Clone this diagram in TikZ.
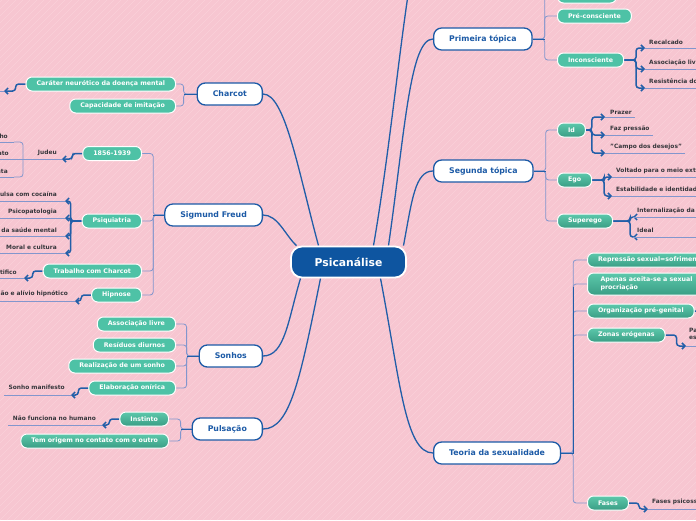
\documentclass[tikz,border=0pt]{standalone}
\usepackage{fontspec}
\setmainfont{DejaVu Sans}
\usetikzlibrary{arrows.meta}

\definecolor{bgpink}{RGB}{247,198,209}
\definecolor{stripepink}{RGB}{250,208,217}
\definecolor{rootblue}{RGB}{14,85,160}
\definecolor{topicblue}{RGB}{28,90,166}
\definecolor{linkblue}{RGB}{33,94,168}
\definecolor{tealflat}{RGB}{78,194,166}
\definecolor{tealtop}{RGB}{92,200,171}
\definecolor{tealbot}{RGB}{58,158,133}
\definecolor{lavender}{RGB}{130,150,205}
\definecolor{subgray}{RGB}{55,55,60}

\pgfdeclarelayer{bg}
\pgfdeclarelayer{links}
\pgfsetlayers{bg,links,main}

\tikzset{
  root/.style={draw=white, line width=1.8pt, fill=rootblue, rounded corners=11pt,
    text=white, font=\fontsize{10.8}{12}\selectfont\bfseries,
    minimum width=115pt, minimum height=31pt, inner sep=0pt},
  topic/.style={draw=topicblue, line width=1.3pt, fill=white, rounded corners=8pt,
    text=topicblue, font=\fontsize{7.8}{9}\selectfont\bfseries,
    minimum height=22pt, inner xsep=15.5pt, inner ysep=0pt},
  leaf/.style={draw=white, line width=1pt, fill=tealflat, rounded corners=6pt,
    text=white, font=\fontsize{6.3}{7.6}\selectfont\bfseries,
    minimum height=14pt, inner xsep=10.5pt, inner ysep=1pt},
  leafg/.style={leaf, top color=tealtop, bottom color=tealbot},
  subtext/.style={text=subgray, font=\fontsize{5.9}{7.4}\selectfont\bfseries, inner xsep=3pt, inner ysep=1pt},
  link/.style={draw=linkblue, line width=1.3pt},
  stub/.style={draw=linkblue, line width=1pt},
  bracket/.style={draw=lavender, line width=0.8pt, rounded corners=3pt},
  uline/.style={draw=lavender, line width=0.8pt},
  fork/.style={draw=linkblue, line width=1.5pt, rounded corners=3pt,
    -{Straight Barb[length=3pt,width=6pt]}},
}

\begin{document}
\begin{tikzpicture}[x=1pt,y=-1pt]
  \useasboundingbox (0,0) rectangle (696,520);

  % Background
  \begin{pgfonlayer}{bg}
    \fill[bgpink] (0,0) rectangle (696,520);
    \foreach \a in {-525,-518,...,700}
      \draw[stripepink, line width=0.5pt] (\a,520) -- ++(520,-520);
  \end{pgfonlayer}

  % Central topic
  \node[root] (psi) at (348.5,262) {Psicanálise};

  % Main topics
  \node[topic, anchor=east] (charcot) at (263,94) {Charcot};
  \node[topic, anchor=east] (freud) at (263,215) {Sigmund Freud};
  \node[topic, anchor=east] (sonhos) at (263,356) {Sonhos};
  \node[topic, anchor=east] (puls) at (263,429) {Pulsação};
  \node[topic, anchor=west] (prim) at (433,39) {Primeira tópica};
  \node[topic, anchor=west] (seg) at (433,171) {Segunda tópica};
  \node[topic, anchor=west] (teoria) at (433,453) {Teoria da sexualidade};
  \coordinate (abovetop) at (412,-30);

  % Charcot
  \node[leaf, anchor=east] (carat) at (176,84) {Caráter neurótico da doença mental};
  \node[leaf, anchor=east] (capac) at (176,106) {Capacidade de imitação};
  \coordinate (carattip) at (4,91);

  % Sigmund Freud
  \node[leaf, anchor=east] (y1856) at (142,153.5) {1856-1939};
  \node[leaf, anchor=east] (psiq) at (142,221) {Psiquiatria};
  \node[leaf, anchor=east] (trab) at (142,271) {Trabalho com Charcot};
  \node[leaf, anchor=east] (hipn) at (142,295) {Hipnose};
  \node[subtext, anchor=east] (judeu) at (60,153) {Judeu};
  \node[subtext, anchor=east] (ho) at (11,136) {ho};
  \node[subtext, anchor=east] (ato) at (12,153) {ato};
  \node[subtext, anchor=east] (sta) at (11,171) {sta};
  \node[subtext, anchor=east] (coca) at (60,194) {ulsa com cocaína};
  \node[subtext, anchor=east] (psico) at (60,212) {Psicopatologia};
  \node[subtext, anchor=east] (saude) at (60,230) {da saúde mental};
  \node[subtext, anchor=east] (moral) at (60,247) {Moral e cultura};
  \node[subtext, anchor=east] (tific) at (20,272) {tifico};
  \node[subtext, anchor=east] (alivio) at (71,294) {ão e alívio hipnótico};
  \coordinate (judeutip) at (62,159);
  \coordinate (hoend) at (14,142);
  \coordinate (staend) at (14,177);
  \coordinate (cocatip) at (65,201);
  \coordinate (psicotip) at (65,218);
  \coordinate (saudetip) at (65,236);
  \coordinate (moraltip) at (65,253);
  \coordinate (tifictip) at (24,278);
  \coordinate (aliviotip) at (75,301);

  % Sonhos
  \node[leaf, anchor=east] (assoc) at (176,324) {Associação livre};
  \node[leaf, anchor=east] (resid) at (176,345) {Resíduos diurnos};
  \node[leaf, anchor=east] (realiz) at (176,366) {Realização de um sonho};
  \node[leaf, anchor=east] (elab) at (176,388) {Elaboração onírica};
  \node[subtext, anchor=east] (manif) at (68,387) {Sonho manifesto};
  \coordinate (maniftip) at (71,395);

  % Pulsacao
  \node[leafg, anchor=east] (inst) at (169,419) {Instinto};
  \node[leafg, anchor=east] (origem) at (169,441) {Tem origem no contato com o outro};
  \node[subtext, anchor=east] (humano) at (99,418) {Não funciona no humano};
  \coordinate (humanotip) at (102,425);

  % Primeira topica
  \node[leaf, anchor=west, minimum width=59pt] (consc) at (557,-4) {};
  \node[leaf, anchor=west] (precon) at (557,16) {Pré-consciente};
  \node[leaf, anchor=west] (incon) at (557,60) {Inconsciente};
  \node[subtext, anchor=west] (recal) at (646,42) {Recalcado};
  \node[subtext, anchor=west] (assliv) at (646,63) {Associação liv};
  \node[subtext, anchor=west] (resist) at (646,81) {Resistência do};
  \coordinate (recaltip) at (645,48);
  \coordinate (asslivtip) at (645,69);
  \coordinate (resisttip) at (645,88);

  % Segunda topica
  \node[leafg, anchor=west] (id) at (557,130) {Id};
  \node[leafg, anchor=west] (ego) at (557,180) {Ego};
  \node[leafg, anchor=west] (superego) at (557,221) {Superego};
  \node[subtext, anchor=west] (prazer) at (607,112) {Prazer};
  \node[subtext, anchor=west] (pressao) at (607,129) {Faz pressão};
  \node[subtext, anchor=west] (campo) at (607,147) {"Campo dos desejos"};
  \node[subtext, anchor=west] (voltado) at (613,171) {Voltado para o meio ext};
  \node[subtext, anchor=west] (estab) at (613,189) {Estabilidade e identidad};
  \node[subtext, anchor=west] (intern) at (634,211) {Internalização da};
  \node[subtext, anchor=west] (ideal) at (634,230) {Ideal};
  \coordinate (prazertip) at (605,117);
  \coordinate (pressaotip) at (605,135);
  \coordinate (campotip) at (605,153);
  \coordinate (voltadotip) at (612,177);
  \coordinate (estabtip) at (612,196);
  \coordinate (interntip) at (633,217);
  \coordinate (idealtip) at (633,237);

  % Teoria da sexualidade
  \node[leafg, anchor=west, text width=140pt, align=left] (repr) at (587,260) {Repressão sexual=sofrimen};
  \node[leafg, anchor=west, text width=140pt, align=left, inner xsep=13pt, minimum height=22pt] (apenas) at (587,284) {Apenas aceita-se a sexual\\procriação};
  \node[leafg, anchor=west] (org) at (587,311) {Organização pré-genital};
  \node[leafg, anchor=west] (zonas) at (587,335) {Zonas erógenas};
  \node[leafg, anchor=west] (fases) at (587,503) {Fases};
  \node[subtext, anchor=west, align=left] (pa) at (686,334) {Pa\\es};
  \node[subtext, anchor=west] (fpsic) at (649,502) {Fases psicoss};
  \coordinate (orgtip) at (716,317);
  \coordinate (patip) at (686,346);
  \coordinate (fpsictip) at (648,509);

  \begin{pgfonlayer}{links}
    % Central curves
    \draw[link] ([xshift=-30pt]psi.north) .. controls (298,170) and (285,94) .. (charcot.east);
    \draw[link] ([xshift=-52pt]psi.north) .. controls (285,235) and (278,215) .. (freud.east);
    \draw[link] ([xshift=-48pt]psi.south) .. controls (288,320) and (285,356) .. (sonhos.east);
    \draw[link] ([xshift=-28pt]psi.south) .. controls (300,380) and (290,429) .. (puls.east);
    \draw[link] ([xshift=25pt]psi.north) .. controls (390,150) and (400,40) .. (abovetop);
    \draw[link] ([xshift=40pt]psi.north) .. controls (405,130) and (410,39) .. (prim.west);
    \draw[link] ([xshift=55pt]psi.north) .. controls (412,200) and (415,171) .. (seg.west);
    \draw[link] ([xshift=32pt]psi.south) .. controls (400,380) and (405,453) .. (teoria.west);

    % Brackets to the main topics
    \foreach \c in {carat, capac}
      \draw[bracket] (charcot.west) -- ++(-13,0) |- (\c.east);
    \draw[stub] (charcot.west) -- ++(-13,0);
    \foreach \c in {y1856, psiq, trab, hipn}
      \draw[bracket] (freud.west) -- ++(-11,0) |- (\c.east);
    \draw[stub] (freud.west) -- ++(-11,0);
    \foreach \c in {assoc, resid, realiz, elab}
      \draw[bracket] (sonhos.west) -- ++(-12,0) |- (\c.east);
    \draw[stub] (sonhos.west) -- ++(-12,0);
    \foreach \c in {inst, origem}
      \draw[bracket] (puls.west) -- ++(-11,0) |- (\c.east);
    \draw[stub] (puls.west) -- ++(-11,0);
    \foreach \c in {consc, precon, incon}
      \draw[bracket] (prim.east) -- ++(12,0) |- (\c.west);
    \draw[stub] (prim.east) -- ++(12,0);
    \foreach \c in {id, ego, superego}
      \draw[bracket] (seg.east) -- ++(12,0) |- (\c.west);
    \draw[stub] (seg.east) -- ++(12,0);
    \foreach \c in {repr, apenas, org, zonas, fases}
      \draw[bracket] (teoria.east) -- ++(12,0) |- (\c.west);
    \draw[stub] (teoria.east) -- ++(12,0) -- ++(0,-166);

    % Forks to the subtopics
    \draw[fork] (carat.west) -- ++(-10,0) |- (carattip);
    \draw[uline] (carattip) -- ++(-10,0);
    \draw[fork] (y1856.west) -- ++(-10,0) |- (judeutip);
    \draw[uline] (judeutip) -- ++(-70,0);
    \draw[bracket] (hoend) -| (23,159) |- (staend);
    \draw[uline] (hoend) -- ++(-20,0);
    \draw[uline] (staend) -- ++(-20,0);
    \foreach \t in {cocatip, psicotip, saudetip, moraltip} {
      \draw[fork] (psiq.west) -- ++(-11,0) |- (\t);
      \draw[uline] (\t) -- ++(-72,0);
    }
    \draw[fork] (trab.west) -- ++(-10,0) |- (tifictip);
    \draw[uline] (tifictip) -- ++(-30,0);
    \draw[fork] (hipn.west) -- ++(-10,0) |- (aliviotip);
    \draw[uline] (aliviotip) -- ++(-80,0);
    \draw[fork] (elab.west) -- ++(-10,0) |- (maniftip);
    \draw[uline] (maniftip) -- ++(-67,0);
    \draw[fork] (inst.west) -- ++(-10,0) |- (humanotip);
    \draw[uline] (humanotip) -- ++(-94,0);

    \foreach \t in {recaltip, asslivtip, resisttip} {
      \draw[fork] (incon.east) -- ++(12,0) |- (\t);
      \draw[uline] (\t) -- ++(60,0);
    }
    \foreach \t/\n in {prazertip/prazer, pressaotip/pressao, campotip/campo} {
      \draw[fork] (id.east) -- ++(6,0) |- (\t);
      \draw[uline] (\t) -- (\t -| \n.east);
    }
    \foreach \t in {voltadotip, estabtip} {
      \draw[fork] (ego.east) -- ++(12,0) |- (\t);
      \draw[uline] (\t) -- ++(90,0);
    }
    \foreach \t in {interntip, idealtip} {
      \draw[fork] (superego.east) -- ++(17,0) |- (\t);
      \draw[uline] (\t) -- ++(70,0);
    }
    \draw[fork] (org.east) -- ++(10,0) |- (orgtip);
    \draw[fork] (zonas.east) -- ++(11,0) |- (patip);
    \draw[uline] (patip) -- ++(20,0);
    \draw[fork] (fases.east) -- ++(10,0) |- (fpsictip);
    \draw[uline] (fpsictip) -- ++(60,0);
  \end{pgfonlayer}
\end{tikzpicture}
\end{document}
